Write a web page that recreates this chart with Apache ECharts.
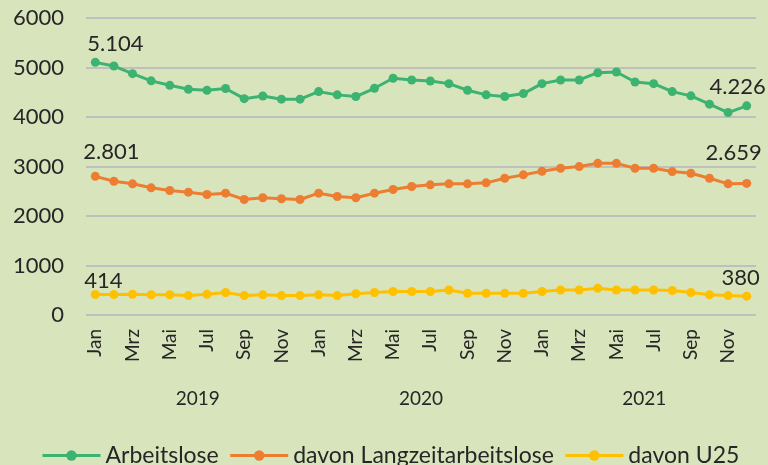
<!DOCTYPE html>
<html>
<head>
<meta charset="utf-8">
<script src="https://cdn.jsdelivr.net/npm/echarts@6/dist/echarts.min.js"></script>
<style>
    html, body { margin: 0; padding: 0; background: #d8e4bc; }
    #chart { width: 768px; height: 465px; }
</style>
</head>
<body>
<div id="chart"></div>
<script>
// Monate Jan 2019 - Dez 2021
var months = ['Jan', 'Feb', 'Mrz', 'Apr', 'Mai', 'Jun', 'Jul', 'Aug', 'Sep', 'Okt', 'Nov', 'Dez'];
var years = ['2019', '2020', '2021'];
var categories = [];
years.forEach(function (y) {
    months.forEach(function (m) { categories.push(m + ' ' + y); });
});

// Werte
var arbeitslose = [5104, 5030, 4875, 4730, 4640, 4560, 4540, 4575, 4370, 4425, 4360, 4360,
    4513, 4447, 4413, 4580, 4782, 4748, 4728, 4674, 4540, 4447, 4413, 4473,
    4674, 4748, 4748, 4895, 4909, 4708, 4674, 4513, 4427, 4259, 4090, 4226];
var langzeit = [2801, 2702, 2650, 2569, 2515, 2481, 2435, 2461, 2334, 2368, 2348, 2334,
    2461, 2394, 2368, 2461, 2535, 2596, 2630, 2650, 2650, 2670, 2763, 2831,
    2903, 2964, 2998, 3064, 3064, 2964, 2964, 2897, 2863, 2763, 2650, 2659];
var u25 = [414, 412, 420, 410, 410, 392, 420, 455, 392, 410, 392, 392,
    410, 392, 430, 455, 475, 475, 475, 505, 440, 440, 440, 440,
    475, 505, 505, 540, 505, 505, 505, 495, 455, 410, 392, 380];
var yTicks = [0, 1000, 2000, 3000, 4000, 5000, 6000];

var textColor = '#262626';
var fontName = 'Lato';

function deNum(v) {
    return String(v).replace(/\B(?=(\d{3})+(?!\d))/g, '.');
}

// nur erster und letzter Punkt bekommen ein Label
function withLabels(values, firstOffset, lastOffset) {
    return values.map(function (v, i) {
        if (i === 0 || i === values.length - 1) {
            return {
                value: v,
                label: {
                    show: true,
                    position: 'top',
                    offset: i === 0 ? firstOffset : lastOffset,
                    formatter: function (p) { return deNum(p.value); },
                    color: textColor,
                    fontFamily: fontName,
                    fontSize: 22
                }
            };
        }
        return v;
    });
}

function lineSeries(name, color, data) {
    return {
        name: name,
        type: 'line',
        data: data,
        symbol: 'circle',
        symbolSize: 9,
        lineStyle: { width: 3, color: color },
        itemStyle: { color: color },
        emphasis: { disabled: true },
        animation: false
    };
}

var myChart = echarts.init(document.getElementById('chart'));
var option = {
    backgroundColor: '#d8e4bc',
    grid: { left: 86, right: 12, top: 18, bottom: 150 },
    legend: {
        left: 36,
        top: 439,
        itemWidth: 58,
        itemHeight: 13,
        itemGap: 10,
        lineStyle: { width: 3 },
        textStyle: { color: textColor, fontFamily: fontName, fontSize: 23 },
        data: ['Arbeitslose', 'davon Langzeitarbeitslose', 'davon U25']
    },
    xAxis: [{
        type: 'category',
        data: categories,
        boundaryGap: true,
        axisLine: { show: false },
        axisTick: { show: false },
        axisLabel: {
            interval: 1,
            rotate: 90,
            margin: 14,
            color: textColor,
            fontFamily: fontName,
            fontSize: 19,
            formatter: function (v) { return v.split(' ')[0]; }
        }
    }, {
        type: 'category',
        data: years,
        position: 'bottom',
        offset: 66,
        axisLine: { show: false },
        axisTick: { show: false },
        axisLabel: { color: textColor, fontFamily: fontName, fontSize: 19 }
    }],
    yAxis: {
        type: 'value',
        min: yTicks[0],
        max: yTicks[yTicks.length - 1],
        interval: 1000,
        axisLabel: {
            margin: 22,
            color: textColor,
            fontFamily: fontName,
            fontSize: 22,
            formatter: function (v) { return String(v); }
        },
        splitLine: { lineStyle: { color: '#bfbfbf', width: 2 } }
    },
    series: [
        lineSeries('Arbeitslose', '#3cb371', withLabels(arbeitslose, [20, 2], [-9, 2])),
        lineSeries('davon Langzeitarbeitslose', '#ed7d31', withLabels(langzeit, [16, -4], [-13, -10])),
        lineSeries('davon U25', '#ffc000', withLabels(u25, [8, 7], [-6, 2]))
    ]
};
myChart.setOption(option);
</script>
</body>
</html>
